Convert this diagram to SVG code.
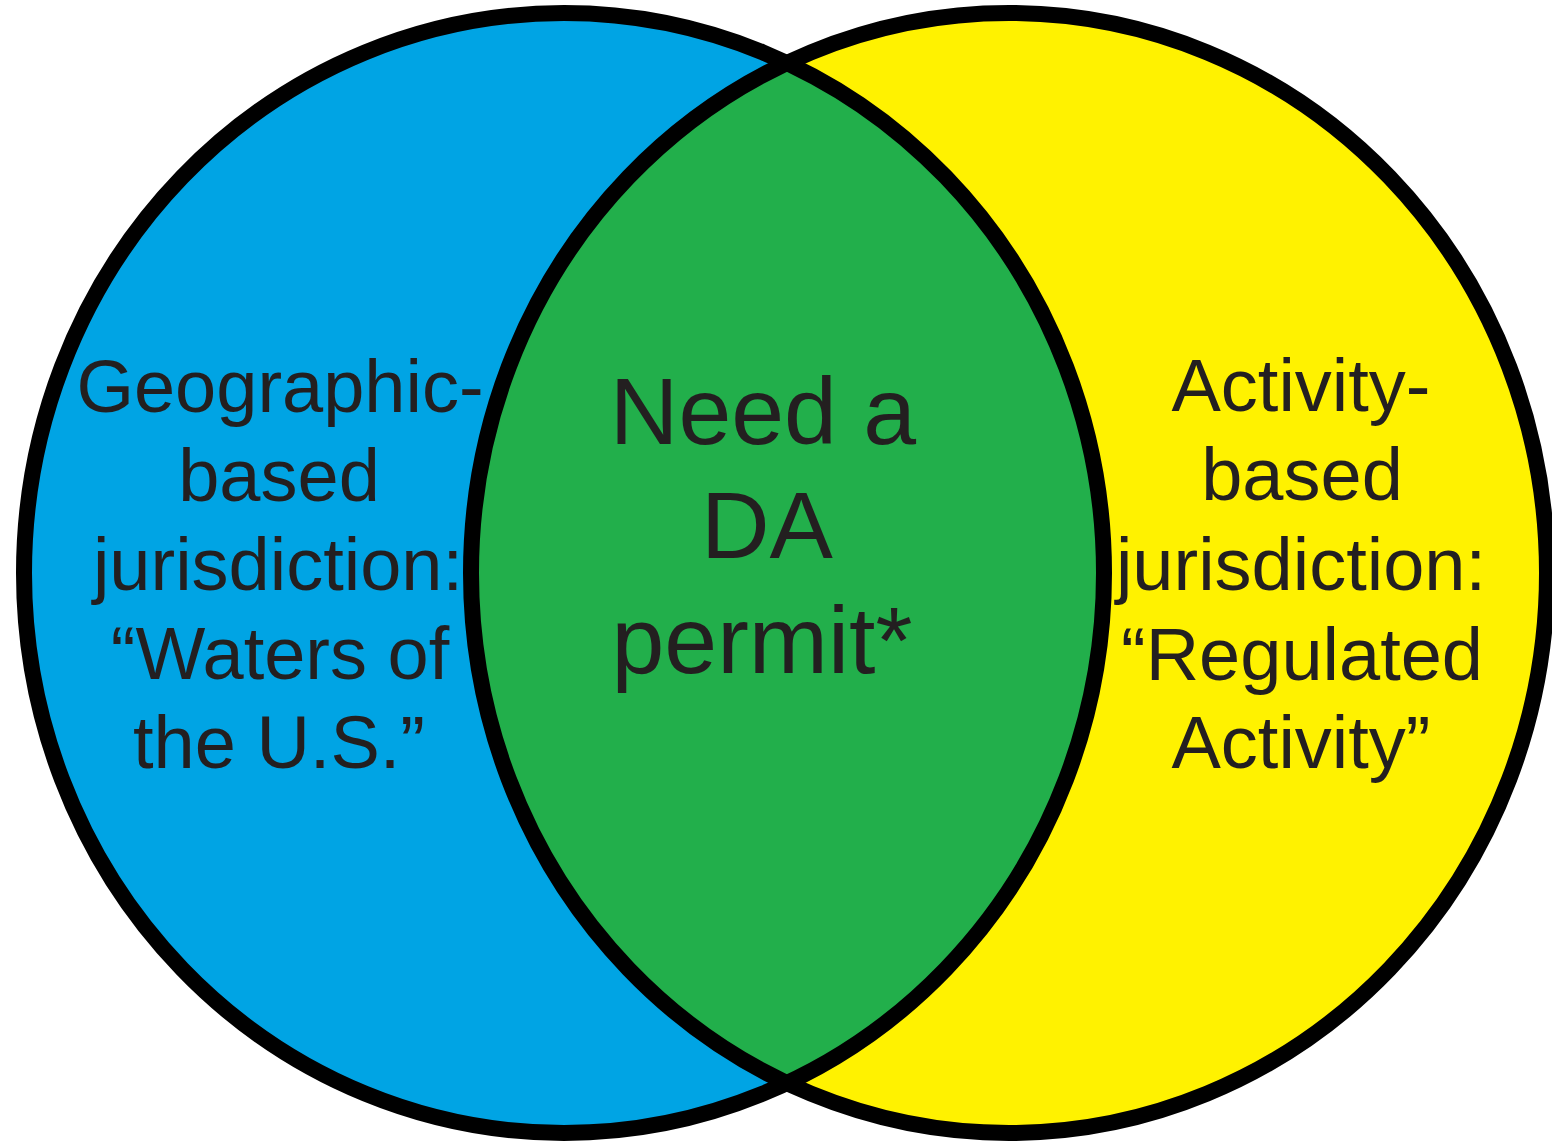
<svg xmlns="http://www.w3.org/2000/svg" width="1552" height="1141" viewBox="0 0 1552 1141">
  <style>
    .ring { fill: none; stroke: #000000; stroke-width: 16; }
    .label { font-family: "Liberation Sans", Arial, sans-serif; fill: #231f20; text-anchor: middle; }
    .side { font-size: 74px; }
    .core { font-size: 95px; }
  </style>
  <defs>
    <ellipse id="leftShape" cx="564" cy="573" rx="540" ry="560"/>
    <ellipse id="rightShape" cx="1009" cy="573" rx="538" ry="560"/>
    <clipPath id="rightClip">
      <use href="#rightShape"/>
    </clipPath>
  </defs>
  <rect x="0" y="0" width="1552" height="1141" fill="#ffffff"/>

  <!-- Geographic-based set -->
  <g id="geographic">
    <use href="#leftShape" fill="#00a4e4"/>
  </g>

  <!-- Activity-based set -->
  <g id="activity">
    <use href="#rightShape" fill="#fff200"/>
  </g>

  <!-- Overlap: permit required -->
  <g id="permit">
    <use href="#leftShape" fill="#22af4b" clip-path="url(#rightClip)"/>
  </g>

  <!-- Outlines of both sets -->
  <g id="outlines">
    <use href="#leftShape" class="ring"/>
    <use href="#rightShape" class="ring"/>
  </g>

  <g id="geographic-label" class="label side">
    <text x="280" y="412">Geographic-</text>
    <text x="279" y="501">based</text>
    <text x="278" y="590">jurisdiction:</text>
    <text x="280" y="679">“Waters of</text>
    <text x="279" y="768">the U.S.”</text>
  </g>

  <g id="permit-label" class="label core">
    <text x="763" y="444">Need a</text>
    <text x="767" y="558">DA</text>
    <text x="762" y="673">permit*</text>
  </g>

  <g id="activity-label" class="label side">
    <text x="1301" y="411">Activity-</text>
    <text x="1302" y="500">based</text>
    <text x="1301" y="590">jurisdiction:</text>
    <text x="1302" y="680">“Regulated</text>
    <text x="1301" y="768">Activity”</text>
  </g>
</svg>
